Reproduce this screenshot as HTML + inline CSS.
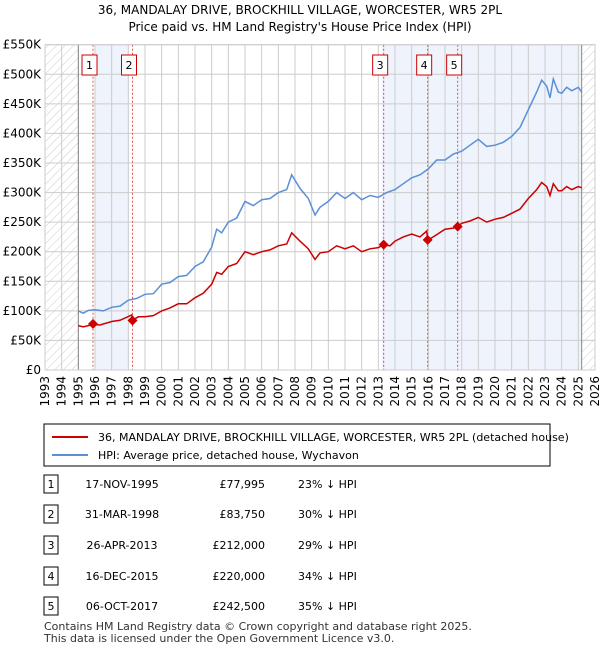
<!DOCTYPE html>
<html><head><meta charset="utf-8"><style>
body{margin:0;background:#fff;font-family:"Liberation Sans","DejaVu Sans",sans-serif;}
svg text{font-family:"DejaVu Sans","Liberation Sans",sans-serif;}
</style></head><body>
<svg width="600" height="650" viewBox="0 0 600 650" xmlns="http://www.w3.org/2000/svg">
<defs><pattern id="hatch" width="6" height="6" patternUnits="userSpaceOnUse" patternTransform="rotate(45)"><line x1="0" y1="0" x2="0" y2="6" stroke="#ccc" stroke-width="1"/></pattern></defs>
<text x="300" y="14" text-anchor="middle" font-size="12">36, MANDALAY DRIVE, BROCKHILL VILLAGE, WORCESTER, WR5 2PL</text>
<text x="300" y="31" text-anchor="middle" font-size="12">Price paid vs. HM Land Registry's House Price Index (HPI)</text>
<g id="plot"></g>
<rect x="44" y="424" width="506" height="42" fill="#fff" stroke="#000"/>
<line x1="52" y1="437" x2="88" y2="437" stroke="#cc0000" stroke-width="2"/>
<text x="98" y="441" font-size="11">36, MANDALAY DRIVE, BROCKHILL VILLAGE, WORCESTER, WR5 2PL (detached house)</text>
<line x1="52" y1="455" x2="88" y2="455" stroke="#5b8fd6" stroke-width="2"/>
<text x="98" y="459" font-size="11">HPI: Average price, detached house, Wychavon</text>
<g id="table" font-size="11"></g>
<text x="44" y="630" font-size="11" fill="#333">Contains HM Land Registry data © Crown copyright and database right 2025.</text>
<text x="44" y="642" font-size="11" fill="#333">This data is licensed under the Open Government Licence v3.0.</text>
</svg>
<script>
const hpiYears=[1995.0,1995.3,1995.6,1996,1996.5,1997,1997.5,1998,1998.5,1999,1999.5,2000,2000.5,2001,2001.5,2002,2002.5,2003,2003.3,2003.6,2004,2004.5,2005,2005.5,2006,2006.5,2007,2007.5,2007.8,2008.3,2008.8,2009.2,2009.5,2010,2010.5,2011,2011.5,2012,2012.5,2013,2013.5,2014,2014.5,2015,2015.5,2016,2016.5,2017,2017.5,2018,2018.5,2019,2019.5,2020,2020.5,2021,2021.5,2022,2022.5,2022.8,2023.1,2023.3,2023.5,2023.8,2024,2024.3,2024.6,2025,2025.2];
const hpiValues=[100,96,101,102,100,106,108,118,121,128,129,145,148,158,160,175,183,208,238,232,250,257,285,278,288,290,300,305,330,307,290,262,275,285,300,290,300,288,295,292,300,305,315,325,330,340,355,355,365,370,380,390,378,380,385,395,410,440,470,490,480,460,492,470,468,478,472,478,470];
const priceYears=[1995.0,1995.3,1995.88,1996.3,1997,1997.5,1998.2,1998.25,1998.6,1999,1999.5,2000,2000.5,2001,2001.5,2002,2002.5,2003,2003.3,2003.6,2004,2004.5,2005,2005.5,2006,2006.5,2007,2007.5,2007.8,2008.3,2008.8,2009.2,2009.5,2010,2010.5,2011,2011.5,2012,2012.5,2013,2013.32,2013.7,2014,2014.5,2015,2015.5,2015.9,2015.96,2016.3,2017,2017.5,2017.76,2018,2018.5,2019,2019.5,2020,2020.5,2021,2021.5,2022,2022.5,2022.8,2023.1,2023.3,2023.5,2023.8,2024,2024.3,2024.6,2025,2025.2];
const priceValues=[75,73,77,76,82,84,93,84,90,90,92,100,105,112,112,122,130,145,165,162,175,180,200,195,200,203,210,213,232,218,205,187,198,200,210,205,210,200,205,207,212,210,218,225,230,225,235,220,225,238,240,242.5,248,252,258,250,255,258,265,272,290,305,317,310,295,315,303,303,310,305,310,308];
const saleYears=[1995.88,1998.25,2013.32,2015.96,2017.76];
const saleValues=[77995,83750,212000,220000,242500];
const saleLabels=["1","2","3","4","5"];
const saleDates=["17-NOV-1995","31-MAR-1998","26-APR-2013","16-DEC-2015","06-OCT-2017"];
const salePrices=["£77,995","£83,750","£212,000","£220,000","£242,500"];
const salePcts=["23% ↓ HPI","30% ↓ HPI","29% ↓ HPI","34% ↓ HPI","35% ↓ HPI"];
const yTicks=[0,50,100,150,200,250,300,350,400,450,500,550];
const yTickLabels=["£0","£50K","£100K","£150K","£200K","£250K","£300K","£350K","£400K","£450K","£500K","£550K"];
const ns="http://www.w3.org/2000/svg";
const X0=45,X1=595,Y0=370,Y1=44.7,xmin=1993,xmax=2026,ymax=550;
const xs=v=>X0+(v-xmin)/(xmax-xmin)*(X1-X0);
const ys=v=>Y0-v/ymax*(Y0-Y1);
function mk(tag,attrs,parent){const e=document.createElementNS(ns,tag);for(const k in attrs)e.setAttribute(k,attrs[k]);parent.appendChild(e);return e;}
const g=document.getElementById('plot');
let e;
e=mk('rect',{x:xs(1996),y:Y1,width:xs(1998)-xs(1996),height:Y0-Y1,fill:'#eef3fc'},g);


e=mk('rect',{x:xs(2013.2),y:Y1,width:xs(2025.2)-xs(2013.2),height:Y0-Y1,fill:'#eef3fc'},g);


for(let yr=1993;yr<=2026;yr++){
 e=mk('line',{x1:xs(yr),x2:xs(yr),y1:Y1,y2:Y0,stroke:'#ccc','stroke-width':1},g);
 
 
 e=mk('text',{x:0,y:0,'font-size':12,'text-anchor':'end',transform:`translate(${xs(yr)+4},${Y0+6}) rotate(-90)`},g);
 e.textContent=yr;
 
 
}
yTicks.forEach((t,i)=>{
 e=mk('line',{x1:X0,x2:X1,y1:ys(t),y2:ys(t),stroke:'#ccc','stroke-width':1},g);
 
 
 e=mk('text',{x:X0-4,y:ys(t)+4,'font-size':12,'text-anchor':'end'},g);
 e.textContent=yTickLabels[i];
 
 
});
e=mk('rect',{x:X0,y:Y1,width:xs(1995)-X0,height:Y0-Y1,fill:'url(#hatch)'},g);


e=mk('rect',{x:xs(2025.2),y:Y1,width:X1-xs(2025.2),height:Y0-Y1,fill:'url(#hatch)'},g);


e=mk('line',{x1:xs(1995),x2:xs(1995),y1:Y1,y2:Y0,stroke:'#888'},g);


e=mk('line',{x1:xs(2025.2),x2:xs(2025.2),y1:Y1,y2:Y0,stroke:'#888'},g);


saleYears.forEach((s,i)=>{
 e=mk('line',{x1:xs(s),x2:xs(s),y1:Y1,y2:Y0,stroke:'#e05050','stroke-dasharray':'2,2'},g);
 
 
 e=mk('rect',{x:xs(s)-11,y:55,width:15,height:20,fill:'#fff',stroke:'#cc0000'},g);
 
 
 e=mk('text',{x:xs(s)-3.5,y:69,'font-size':11,'text-anchor':'middle'},g);
 e.textContent=saleLabels[i];
 
 
});
e=mk('path',{d:hpiYears.map((y,i)=>(i?'L':'M')+xs(y).toFixed(1)+','+ys(hpiValues[i]).toFixed(1)).join(''),fill:'none',stroke:'#5b8fd6','stroke-width':1.5},g);


e=mk('path',{d:priceYears.map((y,i)=>(i?'L':'M')+xs(y).toFixed(1)+','+ys(priceValues[i]).toFixed(1)).join(''),fill:'none',stroke:'#cc0000','stroke-width':1.5},g);


saleYears.forEach((s,i)=>{
 const cx=xs(s),cy=ys(saleValues[i]/1000);
 e=mk('path',{d:`M${cx},${cy-5}L${cx+5},${cy}L${cx},${cy+5}L${cx-5},${cy}Z`,fill:'#cc0000'},g);
 
 
});
e=mk('rect',{x:X0,y:Y1,width:X1-X0,height:Y0-Y1,fill:'none',stroke:'#ccc'},g);


const t=document.getElementById('table');
const rowY=[484,514,545,576,606];
rowY.forEach((ry,i)=>{
 e=mk('rect',{x:44,y:ry-9,width:14,height:18,fill:'#fff',stroke:'#000'},t);
 
 
 e=mk('text',{x:51,y:ry+4,'text-anchor':'middle'},t);e.textContent=saleLabels[i];
 
 
 e=mk('text',{x:122,y:ry+4,'text-anchor':'middle'},t);e.textContent=saleDates[i];
 
 
 e=mk('text',{x:265,y:ry+4,'text-anchor':'end'},t);e.textContent=salePrices[i];
 
 
 e=mk('text',{x:298,y:ry+4},t);e.textContent=salePcts[i];
 
 
});
</script>
</body></html>
